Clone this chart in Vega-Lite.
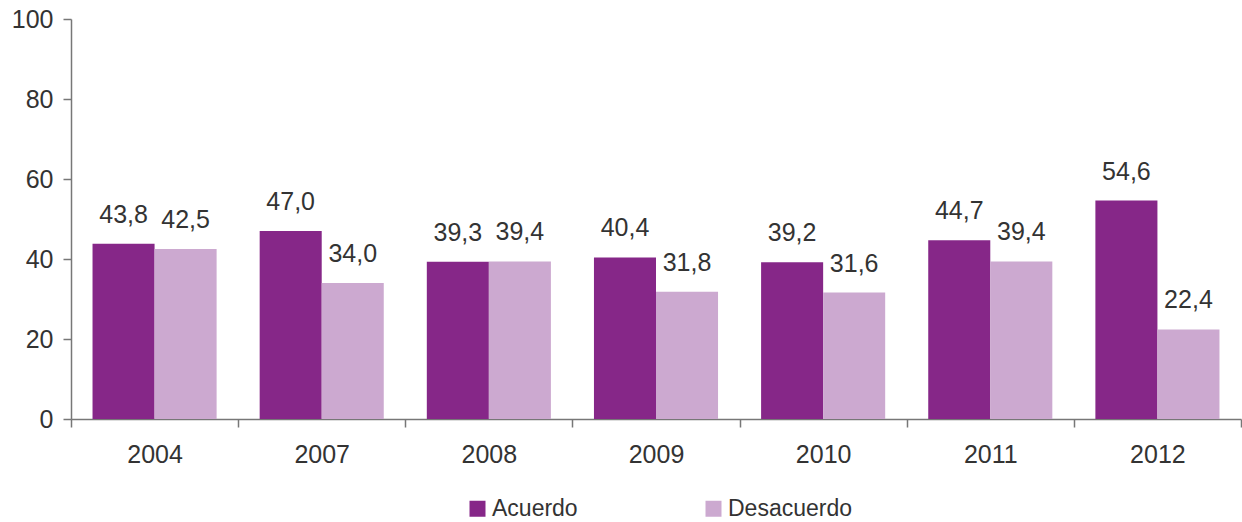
{
  "$schema": "https://vega.github.io/schema/vega-lite/v6.json",
  "width": 1170,
  "height": 400,
  "autosize": {"type": "none"},
  "padding": {"left": 71, "top": 19, "right": 1, "bottom": 103},
  "background": "white",
  "config": {
    "locale": {"number": {"decimal": ",", "thousands": ".", "grouping": [3], "currency": ["", " €"]}},
    "view": {"stroke": null},
    "font": "Liberation Sans",
    "axis": {"labelFont": "Liberation Sans", "labelFontSize": 25, "labelColor": "#333333", "domainColor": "#777777", "tickColor": "#777777", "grid": false, "title": null}
  },
  "data": {
    "values": [
      {"year": "2004", "serie": "Acuerdo", "value": 43.8},
      {"year": "2004", "serie": "Desacuerdo", "value": 42.5},
      {"year": "2007", "serie": "Acuerdo", "value": 47.0},
      {"year": "2007", "serie": "Desacuerdo", "value": 34.0},
      {"year": "2008", "serie": "Acuerdo", "value": 39.3},
      {"year": "2008", "serie": "Desacuerdo", "value": 39.4},
      {"year": "2009", "serie": "Acuerdo", "value": 40.4},
      {"year": "2009", "serie": "Desacuerdo", "value": 31.8},
      {"year": "2010", "serie": "Acuerdo", "value": 39.2},
      {"year": "2010", "serie": "Desacuerdo", "value": 31.6},
      {"year": "2011", "serie": "Acuerdo", "value": 44.7},
      {"year": "2011", "serie": "Desacuerdo", "value": 39.4},
      {"year": "2012", "serie": "Acuerdo", "value": 54.6},
      {"year": "2012", "serie": "Desacuerdo", "value": 22.4}
    ]
  },
  "encoding": {
    "x": {
      "field": "year", "type": "nominal",
      "scale": {"paddingInner": 0, "paddingOuter": 0},
      "axis": {"labelAngle": 0, "tickBand": "extent", "tickSize": 8, "labelPadding": 15, "domainWidth": 1.5, "tickWidth": 1.5}
    },
    "xOffset": {"field": "serie", "type": "nominal", "sort": ["Acuerdo", "Desacuerdo"], "scale": {"paddingInner": 0, "paddingOuter": 0.347}},
    "y": {
      "field": "value", "type": "quantitative",
      "scale": {"domain": [0, 100]},
      "axis": {"values": [0, 20, 40, 60, 80, 100], "tickSize": 8, "labelPadding": 10, "domainWidth": 1.5, "tickWidth": 1.5}
    }
  },
  "layer": [
    {
      "mark": {"type": "bar"},
      "encoding": {
        "color": {
          "field": "serie", "type": "nominal",
          "scale": {"domain": ["Acuerdo", "Desacuerdo"], "range": ["#862788", "#CCA9D0"]},
          "legend": {
            "title": null, "orient": "none", "direction": "horizontal",
            "legendX": 395, "legendY": 478,
            "symbolType": "square", "symbolSize": 256, "symbolStrokeWidth": 0,
            "labelFontSize": 23, "labelColor": "#333333", "labelFont": "Liberation Sans",
            "columnPadding": 124, "labelOffset": 3
          }
        }
      }
    },
    {
      "mark": {"type": "text", "baseline": "alphabetic", "dy": -21, "fontSize": 25, "color": "#333333"},
      "encoding": {
        "text": {"field": "value", "type": "quantitative", "format": ".1f"}
      }
    }
  ]
}
